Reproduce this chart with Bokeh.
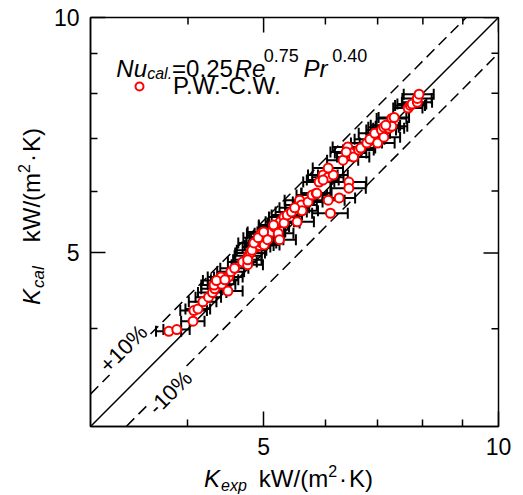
import math
from bokeh.plotting import figure
from bokeh.models import (ColumnDataSource, Whisker, TeeHead, Label, FixedTicker,
                          Legend, LegendItem, Range1d, Div)
from bokeh.layouts import row, column
from bokeh.embed import file_html
from bokeh.resources import INLINE

FONT = "Liberation Sans"

# ---- data (kW/(m2 K)) ----
k_exp = [3.78, 3.87, 4.06, 4.07, 4.12, 4.18, 4.25, 4.30, 4.33, 4.32,
         4.42, 4.41, 4.51, 4.54, 4.50, 4.35, 4.46, 4.59, 4.70, 4.78,
         4.81, 4.90, 4.94, 4.77, 4.77, 4.97, 4.96, 5.01, 5.01, 5.09,
         5.12, 5.16, 5.22, 5.24, 5.25, 5.31, 5.31, 5.52, 5.56, 5.59,
         5.60, 5.70, 5.77, 5.84, 5.89, 5.96, 6.05, 6.14, 6.05, 6.09,
         6.25, 6.43, 6.43, 6.05, 5.96, 5.85, 6.32, 6.41, 6.47, 6.38,
         6.52, 6.62, 6.66, 6.78, 6.84, 6.94, 7.00, 7.08, 7.13, 7.13,
         7.24, 7.30, 7.30, 7.35, 7.17, 7.66, 7.71, 7.75, 7.87, 7.87,
         7.91, 4.83, 4.86, 4.92, 5.00, 5.06, 5.15, 5.36, 5.43, 5.48]
k_cal = [3.97, 3.99, 4.09, 4.22, 4.24, 4.33, 4.39, 4.45, 4.50, 4.55,
         4.56, 4.66, 4.66, 4.73, 4.47, 4.61, 4.62, 4.78, 4.87, 4.96,
         5.00, 5.09, 5.11, 4.83, 4.90, 5.15, 5.29, 5.12, 5.24, 5.30,
         5.32, 5.40, 5.30, 5.20, 5.48, 5.56, 5.46, 5.48, 5.84, 5.76,
         5.66, 5.81, 5.93, 5.96, 6.16, 6.29, 6.25, 6.29, 5.84, 5.62,
         5.88, 6.16, 6.05, 6.42, 6.20, 5.96, 6.57, 6.83, 6.71, 6.73,
         6.63, 6.77, 6.81, 6.91, 6.99, 7.11, 6.91, 7.18, 7.03, 7.24,
         7.22, 7.43, 7.26, 7.45, 7.28, 7.66, 7.72, 7.75, 7.79, 7.88,
         7.98, 5.04, 5.15, 5.23, 5.32, 5.20, 5.43, 5.59, 5.64, 5.71]
k_exp_err = [0.14, 0.15, 0.14, 0.16, 0.15, 0.17, 0.16, 0.18, 0.17, 0.16,
             0.18, 0.17, 0.19, 0.18, 0.20, 0.17, 0.18, 0.19, 0.20, 0.19,
             0.21, 0.20, 0.21, 0.22, 0.20, 0.22, 0.20, 0.23, 0.21, 0.22,
             0.21, 0.23, 0.24, 0.26, 0.22, 0.23, 0.25, 0.28, 0.24, 0.26,
             0.27, 0.25, 0.26, 0.25, 0.27, 0.26, 0.28, 0.27, 0.30, 0.32,
             0.30, 0.34, 0.33, 0.27, 0.28, 0.26, 0.29, 0.28, 0.30, 0.29,
             0.31, 0.30, 0.29, 0.31, 0.30, 0.32, 0.36, 0.31, 0.35, 0.32,
             0.33, 0.32, 0.34, 0.33, 0.31, 0.33, 0.34, 0.33, 0.35, 0.34,
             0.35, 0.21, 0.22, 0.21, 0.23, 0.24, 0.22, 0.24, 0.25, 0.24]

axis_min, axis_max = 3.0, 10.0
major_ticks = [5, 10]
minor_ticks = [4, 6, 7, 8, 9]
tick_labels = {5: "5", 10: "10"}
ref_x = [3.0, 10.0]
ref_ratios = [1.0, 1.1, 0.9]
legend_name = "P.W.-C.W."

# ---- layout (page px) ----
PAGE_W, PAGE_H = 523, 495
YDIV_W = 50
FIG_W, FIG_H = PAGE_W - YDIV_W, 466
FL, FT, FW, FH = 88, 17, 410, 409   # frame in page coordinates
LD = math.log10(axis_max / axis_min)


def px2x(px):
    return 10 ** (math.log10(axis_min) + (px - FL) / FW * LD)


def py2y(py):
    return 10 ** (math.log10(axis_max) - (py - FT) / FH * LD)


p = figure(width=FIG_W, height=FIG_H, x_axis_type="log", y_axis_type="log",
           x_range=Range1d(axis_min, axis_max), y_range=Range1d(axis_min, axis_max),
           output_backend="svg", toolbar_location=None,
           min_border_left=FL - YDIV_W, min_border_right=FIG_W - (FL - YDIV_W) - FW,
           min_border_top=FT, min_border_bottom=FIG_H - FT - FH, margin=0)
p.background_fill_color = "white"
p.border_fill_color = "white"
p.outline_line_color = "black"
p.outline_line_width = 1.5
p.xgrid.visible = False
p.ygrid.visible = False

for ax in (p.xaxis[0], p.yaxis[0]):
    ax.ticker = FixedTicker(ticks=major_ticks, minor_ticks=minor_ticks)
    ax.major_label_overrides = tick_labels
    ax.axis_line_color = "black"
    ax.axis_line_width = 1.5
    ax.major_tick_line_color = "black"
    ax.major_tick_line_width = 1.5
    ax.minor_tick_line_color = "black"
    ax.minor_tick_line_width = 1.5
    ax.major_tick_in = 15
    ax.major_tick_out = 0
    ax.minor_tick_in = 7
    ax.minor_tick_out = 0
    ax.major_label_text_font = FONT
    ax.major_label_text_color = "black"
    ax.major_label_text_font_size = "23px"
p.xaxis[0].major_label_standoff = 11
p.yaxis[0].major_label_standoff = 11

# inward ticks on the top and right edges (half of each dash is clipped by the frame)
n_maj, n_min = len(major_ticks), len(minor_ticks)
tick_style = dict(marker="dash", line_color="black", line_width=1.5)
p.scatter(major_ticks, [axis_max] * n_maj, size=30, angle=math.pi / 2, **tick_style)
p.scatter(minor_ticks, [axis_max] * n_min, size=14, angle=math.pi / 2, **tick_style)
p.scatter([axis_max] * n_maj, major_ticks, size=30, angle=0, **tick_style)
p.scatter([axis_max] * n_min, minor_ticks, size=14, angle=0, **tick_style)

# reference lines
for r in ref_ratios:
    ys = [v * r for v in ref_x]
    p.line(ref_x, ys, line_color="black", line_width=1.5,
           line_dash="solid" if r == 1.0 else "11 6")

# data
src = ColumnDataSource(dict(
    kexp=k_exp, kcal=k_cal,
    lo=[a - e for a, e in zip(k_exp, k_exp_err)],
    hi=[a + e for a, e in zip(k_exp, k_exp_err)],
))
wh = Whisker(source=src, base="kcal", lower="lo", upper="hi", dimension="width",
             line_color="black", line_width=2,
             upper_head=TeeHead(size=11, line_color="black", line_width=2),
             lower_head=TeeHead(size=11, line_color="black", line_width=2))
p.add_layout(wh)
sc = p.scatter("kexp", "kcal", source=src, marker="circle", size=9,
               line_color="#ff0000", line_width=2, fill_color="white")

legend = Legend(items=[LegendItem(label=legend_name, renderers=[sc])],
                location=(39, 326), border_line_color=None,
                background_fill_alpha=0, label_text_font_size="24px",
                label_text_font=FONT, label_text_color="black",
                glyph_width=20, glyph_height=20,
                padding=0, margin=0, label_standoff=24, spacing=0)
p.add_layout(legend)


def piece(text, px, py, size, italic=False):
    p.add_layout(Label(x=px2x(px), y=py2y(py), text=text, text_font=FONT,
                       text_font_size=f"{size}px",
                       text_font_style="italic" if italic else "normal",
                       text_align="left", text_baseline="alphabetic",
                       text_color="black"))


# formula inside the plot
piece("Nu", 114, 68, 24, True)
piece("cal.", 145, 73, 16, True)
piece("=0.25", 170, 68, 24)
piece("Re", 233, 68, 24, True)
piece("0.75", 262, 55, 18)
piece("Pr", 302, 68, 24, True)
piece("0.40", 331, 55, 18)

# percentage labels
for txt, cx, cy in [("+10%", 121, 348), ("-10%", 168, 392)]:
    p.add_layout(Label(x=px2x(cx), y=py2y(cy), text=txt, text_font=FONT,
                       text_font_size="22px", text_align="center",
                       text_baseline="middle", angle=math.pi / 4,
                       background_fill_color="white", text_color="black"))

# ---- axis titles as HTML text ----
SUB = "font-size:16px;font-style:italic;vertical-align:-4px;line-height:0;"
SUP = "font-size:16px;vertical-align:10px;line-height:0;"
BASE = f"font-family:'{FONT}',Arial,sans-serif;font-size:24px;line-height:25px;color:black;white-space:nowrap;"

x_html = (
    f'<div style="position:relative;width:{FIG_W}px;height:{PAGE_H - FIG_H}px;">'
    f'<div style="position:absolute;left:{204 - YDIV_W}px;top:0px;{BASE}">'
    f'<i>K</i><span style="{SUB}margin-left:1px;">exp</span>'
    f'<span style="margin-left:12px;">kW/(m</span><span style="{SUP}">2</span>'
    f'<span style="margin:0 2px;">\u00b7</span>K)</div></div>'
)
y_html = (
    f'<div style="position:relative;width:{YDIV_W}px;height:{PAGE_H}px;">'
    f'<div style="position:absolute;left:19px;top:305px;transform-origin:0 0;'
    f'transform:rotate(-90deg);{BASE}">'
    f'<i>K</i><span style="{SUB}font-size:17px;margin-left:1px;">cal</span>'
    f'<span style="margin-left:24px;">kW/(m</span><span style="{SUP}">2</span>'
    f'<span style="margin:0 2px;">\u00b7</span>K)</div></div>'
)
xdiv = Div(text=x_html, width=FIG_W, height=PAGE_H - FIG_H, margin=0)
ydiv = Div(text=y_html, width=YDIV_W, height=PAGE_H, margin=0)

layout = row(ydiv, column(p, xdiv, spacing=0), spacing=0)
open("out.html", "w").write(file_html(layout, INLINE))
